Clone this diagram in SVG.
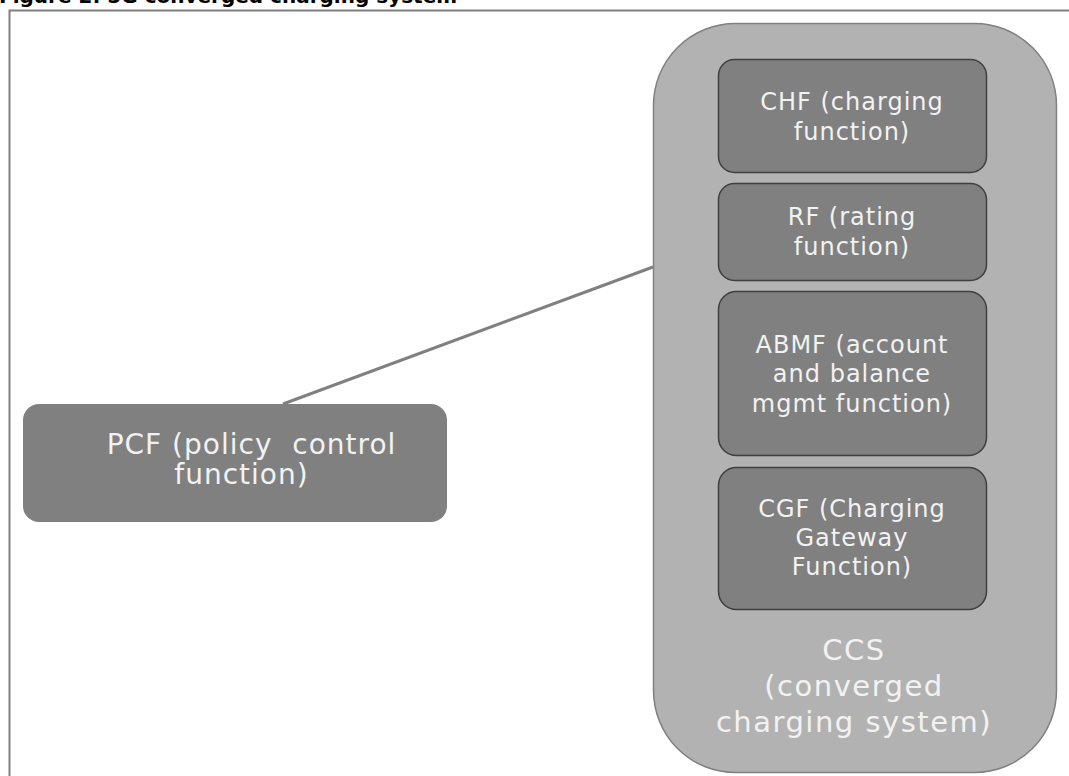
<svg xmlns="http://www.w3.org/2000/svg" width="1069" height="776" viewBox="0 0 1069 776">
  <style>
    .title { font-family: "DejaVu Sans", Verdana, sans-serif; font-weight: bold; font-size: 20px; fill: #000; }
    .inner { fill: #808080; stroke: #3f3f3f; stroke-width: 1.5; }
    .lbl { font-family: "DejaVu Sans", Verdana, sans-serif; font-size: 24px; fill: #f2f2f2; text-anchor: middle; letter-spacing: 1px; }
    .big { font-family: "DejaVu Sans", Verdana, sans-serif; font-size: 29px; fill: #f2f2f2; text-anchor: middle; letter-spacing: 1.5px; }
    .pcf { font-family: "DejaVu Sans", Verdana, sans-serif; font-size: 28px; fill: #f2f2f2; text-anchor: middle; letter-spacing: 1px; }
  </style>

  <rect width="1069" height="776" fill="#ffffff"/>

  <!-- caption -->
  <text class="title" x="-1" y="3">Figure 2: 5G converged charging system</text>

  <!-- figure frame -->
  <path d="M9.5 776 V10.5 H1069" fill="none" stroke="#7f7f7f" stroke-width="2"/>

  <!-- connectors -->
  <g id="connectors">
    <line x1="283" y1="404" x2="653" y2="267" stroke="#808080" stroke-width="3"/>
  </g>

  <!-- converged charging system container -->
  <g id="ccs">
    <rect x="653.5" y="23.5" width="403" height="749" rx="82" ry="82" fill="#b2b2b2" stroke="#808080" stroke-width="1.5"/>
    <text class="big" x="854" y="660">CCS</text>
    <text class="big" x="854" y="696">(converged</text>
    <text class="big" x="854" y="732">charging system)</text>
  </g>

  <g id="chf">
    <rect class="inner" x="718.5" y="59.5" width="268" height="113" rx="16"/>
    <text class="lbl" x="852" y="110">CHF (charging</text>
    <text class="lbl" x="852" y="140">function)</text>
  </g>

  <g id="rf">
    <rect class="inner" x="718.5" y="183.5" width="268" height="97" rx="16"/>
    <text class="lbl" x="852" y="225">RF (rating</text>
    <text class="lbl" x="852" y="255">function)</text>
  </g>

  <g id="abmf">
    <rect class="inner" x="718.5" y="291.5" width="268" height="164" rx="18"/>
    <text class="lbl" x="852" y="353">ABMF (account</text>
    <text class="lbl" x="852" y="382">and balance</text>
    <text class="lbl" x="852" y="412">mgmt function)</text>
  </g>

  <g id="cgf">
    <rect class="inner" x="718.5" y="467.5" width="268" height="142" rx="18"/>
    <text class="lbl" x="852" y="517">CGF (Charging</text>
    <text class="lbl" x="852" y="546">Gateway</text>
    <text class="lbl" x="852" y="575">Function)</text>
  </g>

  <!-- policy control function -->
  <g id="pcf">
    <rect x="23" y="404" width="424" height="118" rx="16" fill="#808080"/>
    <text class="pcf" x="251.5" y="454" xml:space="preserve">PCF (policy  control</text>
    <text class="pcf" x="241.5" y="484">function)</text>
  </g>
</svg>
